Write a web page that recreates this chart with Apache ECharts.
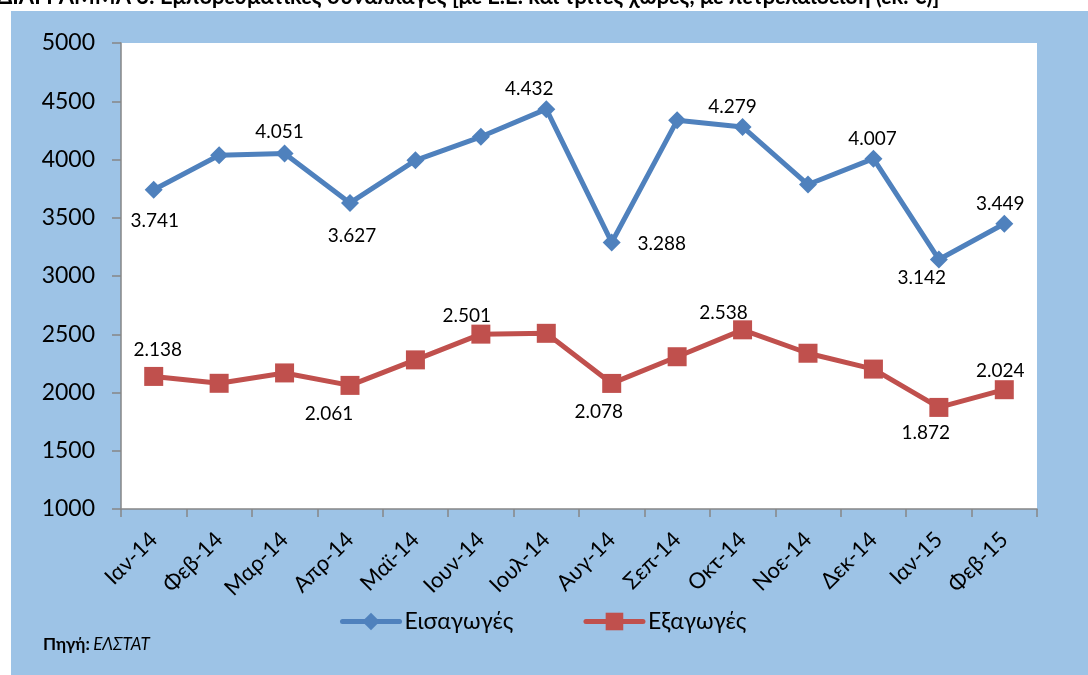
<!DOCTYPE html>
<html>
<head>
<meta charset="utf-8">
<title>Εμπορευματικές συναλλαγές</title>
<script src="https://cdn.jsdelivr.net/npm/echarts@6.0.0/dist/echarts.min.js"></script>
<style>
  html, body { margin: 0; padding: 0; background: #fff; }
  #chart { width: 1088px; height: 675px; }
</style>
</head>
<body>
<div id="chart"></div>
<script>
// months (categories)
var months = ['Ιαν-14', 'Φεβ-14', 'Μαρ-14', 'Απρ-14', 'Μαϊ-14', 'Ιουν-14', 'Ιουλ-14',
  'Αυγ-14', 'Σεπ-14', 'Οκτ-14', 'Νοε-14', 'Δεκ-14', 'Ιαν-15', 'Φεβ-15']

// εκ. ευρώ
var imports = [3741, 4036, 4051, 3627, 3993, 4195, 4432, 3288, 4336, 4279, 3785, 4007, 3142, 3449]
var exports = [2138, 2079, 2168, 2061, 2280, 2501, 2508, 2078, 2307, 2538, 2337, 2201, 1872, 2024]

var yTicks = [1000, 5000, 500] // min, max, step

// where Excel put the value labels (offset from marker), null = no label
var importLabelAt = [[1, 31], null, [-5, -22], [2, 33], null, null, [-17, -20],
  [50, 1], null, [-10, -20], null, [-1, -20], [-17, 18], [-4, -20]]
var exportLabelAt = [[4, -27], null, null, [-21, 28], null, [-14, -18], null,
  [-13, 28], null, [-19, -17], null, null, [-13, 25], [-4, -19]]

var FONT = 'Lato, "Open Sans", sans-serif'

function fmt(v) {
  return String(v).replace(/\B(?=(\d{3})+(?!\d))/g, '.')
}

function withLabels(values, offsets) {
  return values.map(function (v, i) {
    var off = offsets[i]
    if (!off) return v
    return {
      value: v,
      label: {
        show: true,
        position: 'inside',
        offset: off,
        formatter: function (p) { return fmt(p.value) },
        color: '#000',
        fontSize: 19,
        fontFamily: FONT
      }
    }
  })
}

var chart = echarts.init(document.getElementById('chart'))

chart.setOption({
  backgroundColor: '#9DC3E6',
  animation: false,
  textStyle: { fontFamily: FONT },
  graphic: [
    { type: 'rect', shape: { x: 0, y: 0, width: 1088, height: 11 }, style: { fill: '#fff' }, silent: true },
    { type: 'rect', shape: { x: 0, y: 0, width: 11, height: 675 }, style: { fill: '#fff' }, silent: true },
    {
      type: 'text', left: -3, top: -14,
      style: {
        text: 'ΔΙΑΓΡΑΜΜΑ 3: Εμπορευματικές συναλλαγές [με Ε.Ε. και τρίτες χώρες, με πετρελαιοειδή (εκ. €)]',
        fontSize: 22, fontWeight: 'bold', fill: '#000', fontFamily: FONT
      }
    },
    {
      type: 'text', left: 43, top: 636,
      style: {
        text: '{b|Πηγή:} {i|ΕΛΣΤΑΤ}',
        rich: {
          b: { fontSize: 17, fontWeight: 'bold', fontFamily: FONT, fill: '#000' },
          i: { fontSize: 17, fontStyle: 'italic', fontFamily: FONT, fill: '#000' }
        }
      }
    }
  ],
  grid: {
    left: 121,
    top: 43,
    right: 51,
    bottom: 166,
    show: true,
    backgroundColor: '#fff',
    borderWidth: 0
  },
  legend: {
    left: 340,
    top: 610,
    padding: 0,
    itemWidth: 57,
    itemHeight: 22,
    itemGap: 70,
    lineStyle: { width: 5, cap: 'round' },
    textStyle: { fontSize: 23, color: '#000', fontFamily: FONT },
    data: ['Εισαγωγές', 'Εξαγωγές']
  },
  xAxis: {
    type: 'category',
    data: months,
    boundaryGap: true,
    axisLine: { lineStyle: { color: '#868686', width: 1.5 } },
    axisTick: { show: true, length: 8, lineStyle: { color: '#868686', width: 1.5 } },
    axisLabel: {
      rotate: 45,
      margin: 27,
      fontSize: 22,
      color: '#000',
      fontFamily: FONT
    },
    splitLine: { show: false }
  },
  yAxis: {
    type: 'value',
    min: yTicks[0],
    max: yTicks[1],
    interval: yTicks[2],
    axisLine: { show: true, lineStyle: { color: '#868686', width: 1.5 } },
    axisTick: { show: true, length: 9, lineStyle: { color: '#868686', width: 1.5 } },
    axisLabel: {
      fontSize: 23, color: '#000', margin: 26, fontFamily: FONT,
      formatter: function (v) { return String(v) }
    },
    splitLine: { show: false }
  },
  series: [
    {
      name: 'Εισαγωγές',
      type: 'line',
      data: withLabels(imports, importLabelAt),
      symbol: 'diamond',
      symbolSize: 18,
      lineStyle: { color: '#4F81BD', width: 5 },
      itemStyle: { color: '#4F81BD' }
    },
    {
      name: 'Εξαγωγές',
      type: 'line',
      data: withLabels(exports, exportLabelAt),
      symbol: 'rect',
      symbolSize: 19,
      lineStyle: { color: '#C0504D', width: 5 },
      itemStyle: { color: '#C0504D' }
    }
  ]
})
</script>
</body>
</html>
